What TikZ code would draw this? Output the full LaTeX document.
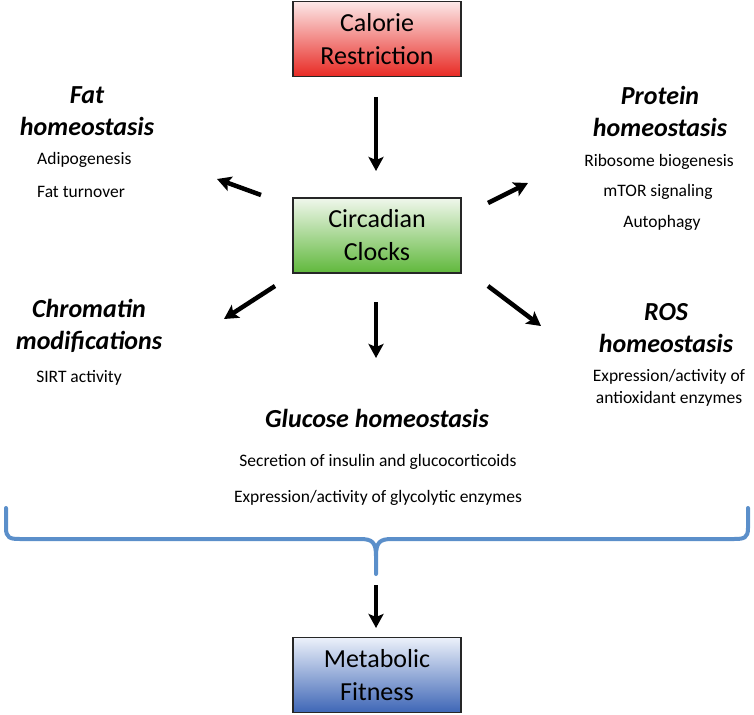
\documentclass[tikz,border=0pt]{standalone}
\usepackage{fontspec}
\setmainfont{Carlito}
\usetikzlibrary{arrows.meta}
\definecolor{bracecol}{RGB}{91,143,202}
\definecolor{redtop}{RGB}{252,232,232}
\definecolor{redbot}{RGB}{232,42,36}
\definecolor{greentop}{RGB}{240,247,236}
\definecolor{greenbot}{RGB}{96,184,60}
\definecolor{bluetop}{RGB}{236,241,250}
\definecolor{bluebot}{RGB}{62,102,182}
\tikzset{
  boxnode/.style={draw=black!85, line width=1.8pt, minimum width=168pt, minimum height=75pt,
    inner sep=0pt, align=center, font=\fontsize{26}{33}\selectfont},
  headnode/.style={align=center, inner sep=0pt, font=\fontsize{26}{32}\selectfont\bfseries\itshape},
  itemnode/.style={align=center, inner sep=0pt, font=\fontsize{17.5}{22}\selectfont},
  bigarrow/.style={line width=4.5pt, -{Stealth[length=14pt,width=15pt,inset=3pt]}},
}
\begin{document}
\begin{tikzpicture}[x=1pt,y=-1pt]
\useasboundingbox (0,0) rectangle (754,714);
% boxes
\node[boxnode, top color=redtop, bottom color=redbot] (cr) at (377,39) {Calorie\\Restriction};
\node[boxnode, top color=greentop, bottom color=greenbot] (cc) at (377,235.5) {Circadian\\Clocks};
\node[boxnode, top color=bluetop, bottom color=bluebot] (mf) at (377,675) {Metabolic\\Fitness};
% headings and items
\node[headnode] (fath) at (87,111) {Fat\\homeostasis};
\node[itemnode, anchor=west] (fat1) at (37,160) {Adipogenesis};
\node[itemnode, anchor=west] (fat2) at (37,192) {Fat turnover};
\node[headnode] (proth) at (660,111) {Protein\\homeostasis};
\node[itemnode] (prot1) at (659,162) {Ribosome biogenesis};
\node[itemnode] (prot2) at (658,192) {mTOR signaling};
\node[itemnode] (prot3) at (662,223) {Autophagy};
\node[headnode] (chrh) at (89,326) {Chromatin\\modifications};
\node[itemnode] (chr1) at (79,378) {SIRT activity};
\node[headnode] (rosh) at (666,328) {ROS\\homeostasis};
\node[itemnode] (ros1) at (669,388) {Expression/activity of\\antioxidant enzymes};
\node[headnode] (gluh) at (377,418) {Glucose homeostasis};
\node[itemnode] (glu1) at (378,462) {Secretion of insulin and glucocorticoids};
\node[itemnode] (glu2) at (378,498) {Expression/activity of glycolytic enzymes};
% arrow end points
\coordinate (a1s) at (376,97);  \coordinate (a1e) at (376,171);
\coordinate (fs) at (261,195);  \coordinate (fe) at (217,179);
\coordinate (ps) at (488,203);  \coordinate (pe) at (528,183);
\coordinate (chs) at (275,286); \coordinate (che) at (224,319);
\coordinate (rs) at (488,286);  \coordinate (re) at (541,326);
\coordinate (ds) at (376,302);  \coordinate (de) at (376,358);
\coordinate (bs) at (376,585);  \coordinate (be) at (376,628);
\draw[bigarrow] (a1s) -- (a1e);
\draw[bigarrow] (fs) -- (fe);
\draw[bigarrow] (ps) -- (pe);
\draw[bigarrow] (chs) -- (che);
\draw[bigarrow] (rs) -- (re);
\draw[bigarrow] (ds) -- (de);
\draw[bigarrow] (bs) -- (be);
% brace
\coordinate (bl) at (6,508);
\coordinate (br) at (748,508);
\coordinate (bc) at (376,574);
\draw[bracecol, line width=4pt, line cap=round]
  (bl) -- (6,528) .. controls (6,538) and (10,539) .. (20,539)
  -- (360,539) .. controls (372,539) and (376,542) .. (376,556) -- (bc);
\draw[bracecol, line width=4pt, line cap=round]
  (br) -- (748,528) .. controls (748,538) and (744,539) .. (734,539)
  -- (392,539) .. controls (380,539) and (376,542) .. (376,556);
\end{tikzpicture}
\end{document}
